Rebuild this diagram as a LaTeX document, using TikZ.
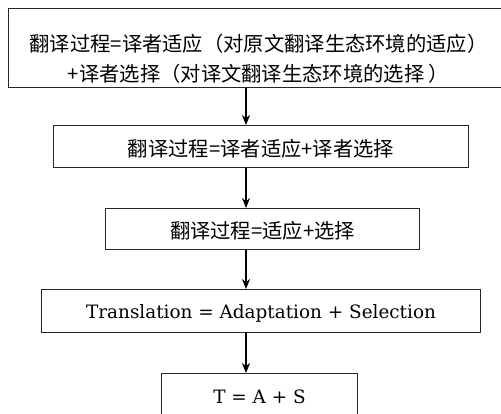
\documentclass[tikz,border=0pt]{standalone}
\usepackage{fontspec}
\newfontfamily\cjk{Noto Sans CJK SC}
\newfontfamily\lat{DejaVu Serif}
\usetikzlibrary{arrows.meta}
\tikzset{
  box/.style={draw=black!85, line width=1.1pt, inner sep=0pt, align=center, anchor=north west},
  zh/.style={font=\cjk\fontsize{20.3}{30}\selectfont},
  en/.style={font=\lat\fontsize{18.4}{22}\selectfont},
  arr/.style={draw=black, line width=1.1pt, -{Stealth[length=10pt,width=8pt]}}
}
\begin{document}
\begin{tikzpicture}[x=1pt,y=-1pt]
\useasboundingbox (0,0) rectangle (501,414);
\clip (0,0) rectangle (501,414);
\fill[white] (0,0) rectangle (501,414);
\node[box,zh,minimum width=500pt,minimum height=79pt] (b1) at (8,8)
  {\rule{0pt}{38pt}翻译过程=译者适应（对原文翻译生态环境的适应）\\+译者选择（对译文翻译生态环境的选择 ）};
\node[box,zh,minimum width=415pt,minimum height=42pt,text height=22pt,text depth=1.4pt] (b2) at (53,125) {翻译过程=译者适应+译者选择};
\node[box,zh,minimum width=314pt,minimum height=41pt,text height=21pt,text depth=1.4pt] (b3) at (105,208) {翻译过程=适应+选择};
\node[box,en,minimum width=439pt,minimum height=43pt,text depth=0pt] (b4) at (41,289) {Translation = Adaptation + Selection};
\node[box,en,minimum width=196pt,minimum height=46pt] (b5) at (161,373) {T = A + S};
\coordinate (ax) at (246,0);
\draw[arr] (b1.south -| ax) -- (b2.north -| ax);
\draw[arr] (b2.south -| ax) -- (b3.north -| ax);
\draw[arr] (b3.south -| ax) -- (b4.north -| ax);
\draw[arr] (b4.south -| ax) -- (b5.north -| ax);
\end{tikzpicture}
\end{document}
